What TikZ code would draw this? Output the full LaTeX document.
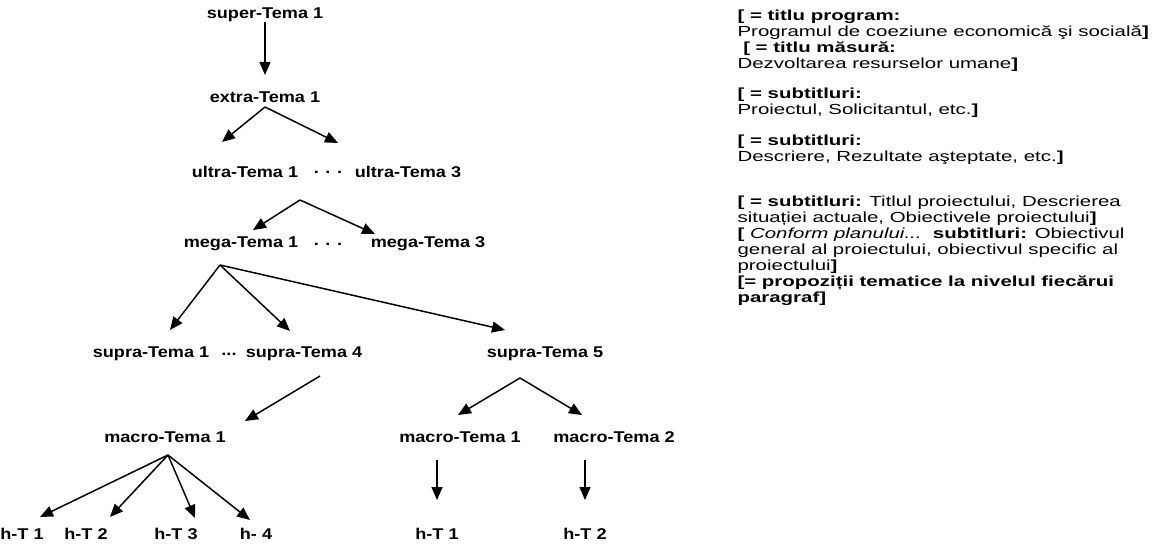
\documentclass[tikz,border=0pt]{standalone}
\usepackage{fontspec}
\setmainfont{Liberation Sans}
\usetikzlibrary{arrows.meta,calc}
\tikzset{
  tema/.style={font=\bfseries\fontsize{7.8}{8}\selectfont, inner sep=0pt, xscale=1.16, transform shape},
  nota/.style={font=\fontsize{7.3}{8}\selectfont, inner sep=0pt, anchor=north west, align=left, xscale=1.4, transform shape},
  sag/.style={-{Triangle[length=6.5pt,width=5.5pt]}, line width=0.75pt},
}
\begin{document}
\begin{tikzpicture}[x=0.5pt,y=-0.5pt]
\useasboundingbox (0,0) rectangle (1160,545);
\node[tema] (sup1) at (265,15){super-Tema 1};
\node[tema] (ext1) at (265,97){extra-Tema 1};
\node[tema] (ult1) at (245,172){ultra-Tema 1};
\node[tema] (ultd) at (328,172){. . .};
\node[tema] (ult3) at (408,172){ultra-Tema 3};
\node[tema] (meg1) at (241,244){mega-Tema 1};
\node[tema] (megd) at (328,244){. . .};
\node[tema] (meg3) at (428,244){mega-Tema 3};
\node[tema] (sup1a) at (151,354){supra-Tema 1};
\node[tema] (supd) at (229,354){...};
\node[tema] (sup4) at (304,354){supra-Tema 4};
\node[tema] (sup5) at (545,354){supra-Tema 5};
\node[tema] (macA) at (165,437){macro-Tema 1};
\node[tema] (macB) at (460,437){macro-Tema 1};
\node[tema] (macC) at (614,437){macro-Tema 2};
\node[tema] (ht1) at (22,534){h-T 1};
\node[tema] (ht2) at (86,534){h-T 2};
\node[tema] (ht3) at (176,534){h-T 3};
\node[tema] (ht4) at (256,534){h- 4};
\node[tema] (htB) at (437,534){h-T 1};
\node[tema] (htC) at (585,534){h-T 2};
\draw[sag] ($(sup1)+(0,7)$) -- ($(ext1)+(0,-22)$);
\draw[sag] ($(ext1)+(0,10)$) -- ($(ult1)+(-23,-30)$);
\draw[sag] ($(ext1)+(0,10)$) -- ($(ult3)+(-70,-29)$);
\draw[sag] ($(ult1)+(55,28)$) -- ($(meg1)+(12,-14)$);
\draw[sag] ($(ult1)+(55,28)$) -- ($(meg3)+(-53,-10)$);
\draw[sag] ($(meg1)+(-21,21)$) -- ($(sup1a)+(19,-24)$);
\draw[sag] ($(meg1)+(-21,21)$) -- ($(sup4)+(-14,-23)$);
\draw[sag] ($(meg1)+(-21,21)$) -- ($(sup5)+(-40,-24)$);
\draw[sag] ($(sup4)+(16,22)$) -- ($(macA)+(80,-16)$);
\draw[sag] ($(sup5)+(-25,24)$) -- ($(macB)+(-2,-22)$);
\draw[sag] ($(sup5)+(-25,24)$) -- ($(macC)+(-32,-22)$);
\draw[sag] ($(macA)+(3,18)$) -- ($(ht1)+(18,-17)$);
\draw[sag] ($(macA)+(3,18)$) -- ($(ht2)+(24,-17)$);
\draw[sag] ($(macA)+(3,18)$) -- ($(ht3)+(19,-16)$);
\draw[sag] ($(macA)+(3,18)$) -- ($(ht4)+(-6,-14)$);
\draw[sag] ($(htB)+(0,-74)$) -- ($(htB)+(0,-34)$);
\draw[sag] ($(htC)+(0,-74)$) -- ($(htC)+(0,-34)$);
\node[nota] (nota1) at (737,10){\textbf{[ = titlu program:}\\
Programul de coeziune economică şi socială\textbf{]}\\
\textbf{~[ = titlu măsură:}\\
Dezvoltarea resurselor umane\textbf{]}};
\node[nota] (nota2) at (737,88){\textbf{[ = subtitluri:}\\
Proiectul, Solicitantul, etc.\textbf{]}};
\node[nota] (nota3) at (737,135){\textbf{[ = subtitluri:}\\
Descriere, Rezultate aşteptate, etc.\textbf{]}};
\node[nota] (nota4) at (737,196){\textbf{[ = subtitluri:} Titlul proiectului, Descrierea\\
situației actuale, Obiectivele proiectului\textbf{]}\\
\textbf{[} \textit{Conform planului...}\ \ \textbf{subtitluri:} Obiectivul\\
general al proiectului, obiectivul specific al\\
proiectului\textbf{]}\\
\textbf{[= propoziții tematice la nivelul fiecărui}\\
\textbf{paragraf]}};
\end{tikzpicture}
\end{document}
